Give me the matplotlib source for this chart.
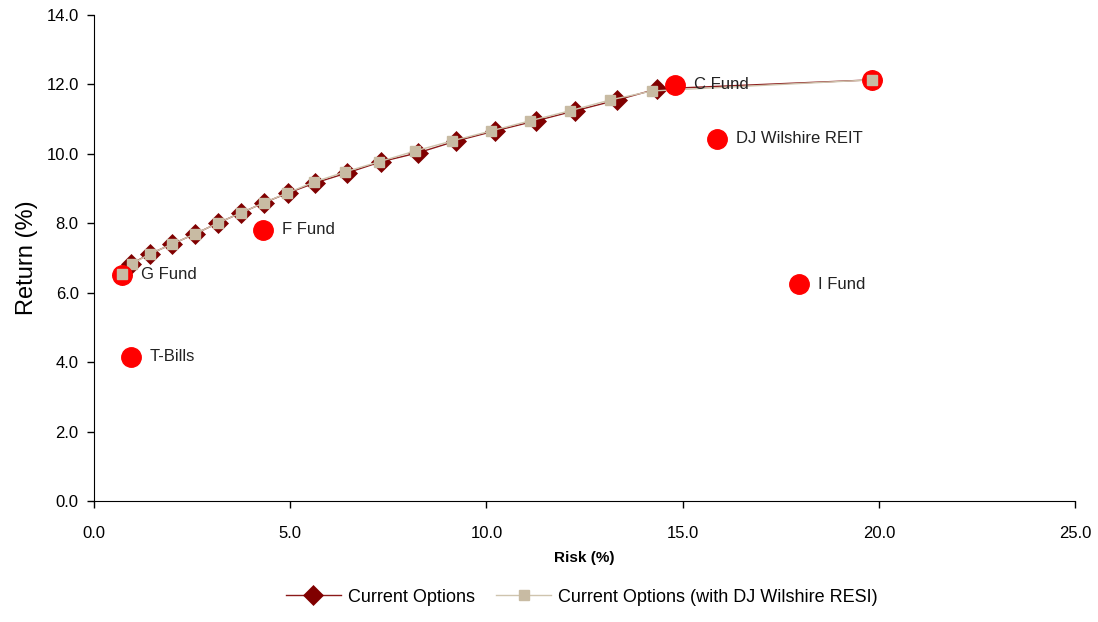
import matplotlib
matplotlib.use('Agg')
import matplotlib.pyplot as plt

plt.rcParams['font.family'] = ['Liberation Sans', 'DejaVu Sans']

# efficient frontier, current options
risk_cur = [0.71, 0.94, 1.43, 1.99, 2.57, 3.16, 3.75, 4.33, 4.94, 5.63, 6.45, 7.31,
            8.26, 9.23, 10.22, 11.26, 12.26, 13.33, 14.35, 19.83]
ret_cur = [6.51, 6.83, 7.12, 7.40, 7.69, 8.01, 8.30, 8.59, 8.87, 9.16, 9.45, 9.77,
           10.03, 10.37, 10.66, 10.95, 11.24, 11.55, 11.87, 12.13]

# frontier with DJ Wilshire RESI
risk_resi = [0.71, 0.97, 1.43, 1.99, 2.57, 3.16, 3.75, 4.33, 4.92, 5.61, 6.40, 7.26,
             8.18, 9.12, 10.12, 11.11, 12.13, 13.15, 14.22, 19.83]
ret_resi = [6.54, 6.83, 7.12, 7.40, 7.69, 8.01, 8.30, 8.59, 8.87, 9.19, 9.48, 9.77,
            10.08, 10.37, 10.66, 10.95, 11.24, 11.55, 11.81, 12.13]

# individual assets
asset_names = ['G Fund', 'T-Bills', 'F Fund', 'C Fund', 'DJ Wilshire REIT', 'I Fund', '']
asset_risk = [0.71, 0.94, 4.31, 14.80, 15.88, 17.97, 19.83]
asset_ret = [6.51, 4.15, 7.81, 11.99, 10.43, 6.25, 12.13]

fig = plt.figure(figsize=(10.98, 6.22), dpi=100)
ax = fig.add_axes([0.0856, 0.1945, 0.8935, 0.7815])

ax.plot(risk_cur, ret_cur, color='#8B1A1A', lw=1.0, marker='D', markersize=10,
        markeredgewidth=0.5, markerfacecolor='#800000', markeredgecolor='#800000',
        label='Current Options', zorder=2)
ax.plot(risk_resi, ret_resi, color='#CFC4AE', lw=1.0, marker='s', markersize=7,
        markerfacecolor='#C8BBA3', markeredgecolor='#C8BBA3',
        label='Current Options (with DJ Wilshire RESI)', zorder=3)

ax.plot(asset_risk, asset_ret, linestyle='none', marker='o', markersize=14,
        markerfacecolor='#FF0000', markeredgecolor='#FF0000', zorder=4)
# frontier squares on top of the G Fund and end dots
ax.plot([risk_resi[0], risk_resi[-1]], [ret_resi[0], ret_resi[-1]], linestyle='none',
        marker='s', markersize=7, color='#C8BBA3', zorder=5)

for name, x, y in zip(asset_names, asset_risk, asset_ret):
    if name:
        ax.text(x + 0.48, y, name, fontsize=12, va='center', ha='left', color='#222222', zorder=6)

ax.set_xlim(0, 25)
ax.set_ylim(0, 14)
ax.set_xticks([0, 5, 10, 15, 20, 25])
ax.set_yticks([0, 2, 4, 6, 8, 10, 12, 14])
ax.set_xticklabels(['%.1f' % v for v in [0, 5, 10, 15, 20, 25]], fontsize=12)
ax.set_yticklabels(['%.1f' % v for v in [0, 2, 4, 6, 8, 10, 12, 14]], fontsize=12)
ax.tick_params(direction='out', length=5, width=1, colors='black')
ax.tick_params(axis='x', pad=13)
ax.tick_params(axis='y', pad=6)
ax.spines['top'].set_visible(False)
ax.spines['right'].set_visible(False)
ax.set_xlabel('Risk (%)', fontsize=11, fontweight='bold', labelpad=7)
ax.set_ylabel('Return (%)', fontsize=17, labelpad=6)

fig.legend(loc='lower center', bbox_to_anchor=(0.53, 0.0), ncol=2, frameon=False,
           fontsize=13, handlelength=3, columnspacing=1.2, handletextpad=0.4)

plt.savefig('out.png', dpi=100)
